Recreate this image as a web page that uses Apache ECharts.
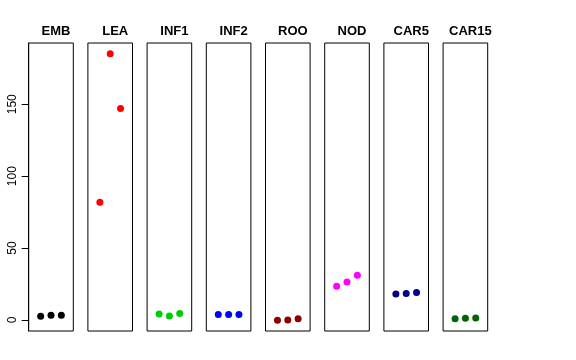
<!DOCTYPE html>
<html>
<head>
<meta charset="utf-8">
<script src="https://cdn.jsdelivr.net/npm/echarts@6/dist/echarts.min.js"></script>
<style>
html,body{margin:0;padding:0;background:#fff;}
#chart{width:576px;height:360px;}
</style>
</head>
<body>
<div id="chart"></div>
<script>
// Panel names
var categories = ['EMB', 'LEA', 'INF1', 'INF2', 'ROO', 'NOD', 'CAR5', 'CAR15'];
// Values per panel (3 replicates each)
var emb   = [2.5, 3.2, 3.2];
var lea   = [81.9, 185.2, 147.0];
var inf1  = [4.2, 2.8, 4.4];
var inf2  = [3.8, 3.8, 3.8];
var roo   = [-0.2, 0.0, 0.9];
var nod   = [23.4, 26.4, 31.1];
var car5  = [18.1, 18.3, 19.0];
var car15 = [0.9, 1.2, 1.4];
// Y tick labels
var yTicks = [0, 50, 100, 150];
// Point colours
var colors = ['#000000', '#FF0000', '#00CD00', '#0000FF', '#8B0000', '#FF00FF', '#00008B', '#006400'];

(function () {
var panels = [emb, lea, inf1, inf2, roo, nod, car5, car15];

var chart = echarts.init(document.getElementById('chart'), null, {renderer: 'canvas'});

var FONT = 'Liberation Sans, Arial, Helvetica, sans-serif';
var yMin = -7.7, yMax = 192.6;
var left0 = 28.7, step = 59.2, pw = 44.6, gTop = 43, ph = 288;

var grids = [], xAxes = [], yAxes = [], series = [], titles = [];
for (var i = 0; i < categories.length; i++) {
  var l = left0 + step * i;
  grids.push({left: l, top: gTop, width: pw, height: ph, show: true,
    borderColor: '#000', borderWidth: 1, backgroundColor: 'transparent'});
  xAxes.push({gridIndex: i, type: 'value', min: -0.16, max: 4.16, show: false});
  var ya = {gridIndex: i, type: 'value', min: yMin, max: yMax,
    splitLine: {show: false}, axisLine: {show: false},
    axisTick: {show: false}, axisLabel: {show: false}};
  if (i === 0) {
    ya.axisLine = {show: true, onZero: false, lineStyle: {color: '#000', width: 1}};
    ya.axisTick = {show: true, length: 7, inside: false, customValues: yTicks,
      lineStyle: {color: '#000', width: 1}};
    ya.axisLabel = {show: true, rotate: 90, margin: 10, customValues: yTicks,
      color: '#000', fontSize: 12, fontFamily: FONT,
      showMinLabel: true, showMaxLabel: true};
  }
  yAxes.push(ya);
  series.push({type: 'scatter', xAxisIndex: i, yAxisIndex: i,
    symbol: 'circle', symbolSize: 7,
    itemStyle: {color: colors[i], opacity: 1},
    data: panels[i].map(function (v, k) { return [k + 1, v]; }),
    silent: true, animation: false});
  titles.push({text: categories[i], left: l + pw / 2, top: 20, textAlign: 'center',
    textStyle: {fontSize: 13, fontWeight: 'bold', color: '#000', fontFamily: FONT}});
}

chart.setOption({
  animation: false,
  backgroundColor: '#fff',
  title: titles,
  grid: grids,
  xAxis: xAxes,
  yAxis: yAxes,
  series: series
});
})();
</script>
</body>
</html>
